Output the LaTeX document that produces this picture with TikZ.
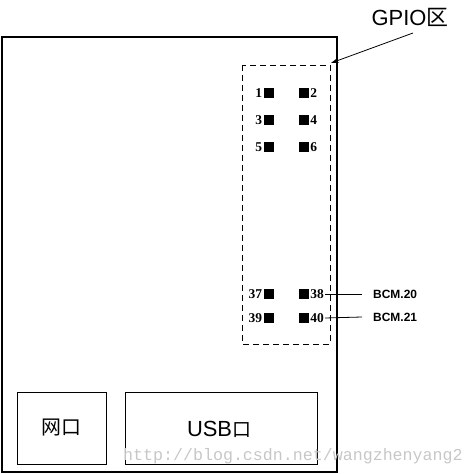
\documentclass[tikz,border=0pt]{standalone}
\usepackage{fontspec}
\setmainfont{Liberation Sans}
\newfontfamily\cjk{Noto Sans CJK SC}
\newfontfamily\numfont{Liberation Serif}
\newfontfamily\wmfont{Liberation Mono}
\usetikzlibrary{arrows.meta}
\begin{document}
\begin{tikzpicture}[x=1bp,y=-1bp,
  board/.style={draw,line width=1.2bp},
  port/.style={draw,line width=1bp},
  pin/.style={fill=black,minimum size=10bp,inner sep=0pt},
  pinnum/.style={font=\numfont\bfseries\fontsize{13.5}{13.5}\selectfont,inner sep=1bp},
  bcm/.style={font=\bfseries\fontsize{12}{12}\selectfont,anchor=west,inner sep=0pt},
  big/.style={font=\fontsize{22}{22}\selectfont,inner sep=0pt},
  wire/.style={line width=0.8bp}]
\useasboundingbox (0,0) rectangle (474,474);
% board
\draw[board] (2,37) rectangle (337,472);
% GPIO area
\draw[line width=0.9bp,dash pattern=on 6bp off 4bp] (242,65) rectangle (330,344);
\coordinate (gpiotip) at (331,63);
\node[big,anchor=base] (gpio) at (410,26) {GPIO{\cjk 区}};
\coordinate (gpiotail) at (413,33);
\draw[wire,-{Stealth[length=8bp,width=5bp]}] (gpiotail) -- (gpiotip);
% pins
\foreach \l/\r/\y/\nm in {1/2/93/a,3/4/120/b,5/6/147/c,37/38/294/d,39/40/318/e}{
  \node[pin] (L\nm) at (268.5,\y) {};
  \node[pin] (R\nm) at (304,\y) {};
  \node[pinnum,anchor=east] (nL\nm) at (L\nm.west) {\l};
  \node[pinnum,anchor=west] (nR\nm) at (R\nm.east) {\r};
}
% BCM labels
\node[bcm] (b20) at (373,294) {BCM.20};
\node[bcm] (b21) at (373,317) {BCM.21};
\draw[wire] (nRd.east) -- (362,294);
\draw[wire] (nRe.east) -- (362,317);
% ports
\draw[port] (17,392) rectangle (106,464);
\draw[port] (125,392) rectangle (317,464);
\node[font=\cjk\fontsize{20}{20}\selectfont,inner sep=0pt] (net) at (61,428) {网口};
\node[big] (usb) at (219,429) {USB{\cjk\fontsize{19}{19}\selectfont 口}};
% watermark
\node[font=\wmfont\fontsize{16.7}{16.7}\selectfont,text=black!22,anchor=base west,inner sep=0pt] (wm) at (123,460) {http://blog.csdn.net/wangzhenyang2};
\end{tikzpicture}
\end{document}
